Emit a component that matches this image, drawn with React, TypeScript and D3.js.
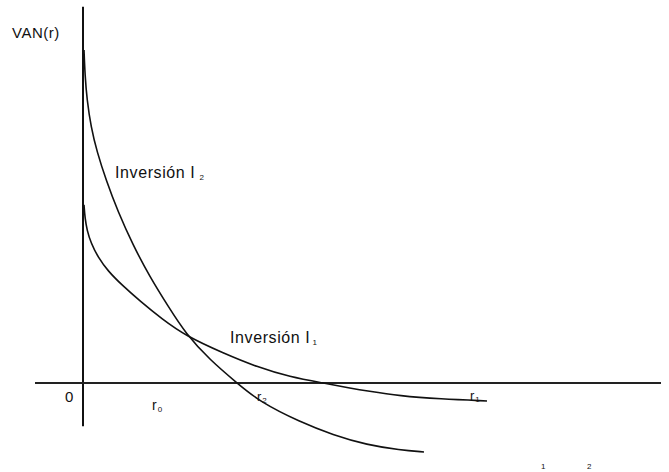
import React from "react";
import * as d3 from "d3";

// Curve data (r, VAN(r)) in abstract units
const rI2 = [0.25, 0.5, 1.0, 2.0, 3.5, 5.75, 8.75, 12.5, 16.75, 21.25, 25.75, 31.75, 38.5, 44.25, 54.25, 62.5, 71, 79.25, 85.25];
const vanI2 = [100, 92.5, 85.0, 76.9, 69.4, 61.0, 51.4, 41.4, 31.8, 23.1, 14.7, 6.9, 0, -5.7, -11.7, -15.6, -18.6, -20.1, -20.7];

const rI1 = [0.25, 0.5, 1.0, 2.0, 3.75, 6.25, 9.75, 14.25, 19.75, 25.75, 35.0, 43.5, 51.75, 60.0, 66.75, 71, 79.25, 89.25, 101];
const vanI1 = [53.5, 49.5, 45.9, 42.0, 37.8, 33.6, 29.4, 24.6, 19.2, 14.1, 9.0, 4.8, 1.8, 0, -1.5, -2.4, -3.9, -4.8, -5.4];

// Axis extents (data units)
const axisRExtent = [-12, 144.5];
const axisVanExtent = [-13, 113];

// Annotations: [text, subscript, r, van, fontSize, subDx]
const annotations: [string, string, number, number, number, number][] = [
  ["VAN(r)", "", -17.75, 103.6, 15, 0],
  ["Inversión I", "2", 8, 61.6, 16, 4],
  ["Inversión I", "1", 36.75, 12.0, 16, 2],
  ["0", "", -4.5, -5.7, 15, 0],
  ["r", "0", 17.25, -8.1, 14, 1],
  ["r", "2", 43.5, -5.4, 13, 1],
  ["r", "1", 96.75, -5.1, 13, 1],
];
const strayLabels: [string, number, number][] = [
  ["1", 114.5, -25.8],
  ["2", 126, -25.8],
];

const W = 669;
const H = 472;

export default function App() {
  const x = d3.scaleLinear().domain([0, 100]).range([83, 483]);
  const y = d3.scaleLinear().domain([0, 100]).range([383, 50]);

  const line = d3
    .line<[number, number]>()
    .x((d) => x(d[0]))
    .y((d) => y(d[1]))
    .curve(d3.curveBasis);

  const ptsI2 = rI2.map((r, i) => [r, vanI2[i]] as [number, number]);
  const ptsI1 = rI1.map((r, i) => [r, vanI1[i]] as [number, number]);

  const font = "'Liberation Sans', Arial, Helvetica, sans-serif";
  const ink = "#111";

  return (
    <svg
      width={W}
      height={H}
      viewBox={`0 0 ${W} ${H}`}
      style={{ position: "absolute", left: 0, top: 0, background: "#fff" }}
    >
      <rect x={0} y={0} width={W} height={H} fill="#fff" />
      {/* axes */}
      <line
        x1={x(0)}
        x2={x(0)}
        y1={y(axisVanExtent[1])}
        y2={y(axisVanExtent[0])}
        stroke={ink}
        strokeWidth={2}
      />
      <line
        x1={x(axisRExtent[0])}
        x2={x(axisRExtent[1])}
        y1={y(0)}
        y2={y(0)}
        stroke="#222"
        strokeWidth={2}
      />
      {/* curves */}
      <path d={line(ptsI2) || ""} fill="none" stroke={ink} strokeWidth={1.6} />
      <path d={line(ptsI1) || ""} fill="none" stroke={ink} strokeWidth={1.6} />
      {/* labels */}
      {annotations.map(([t, sub, r, v, fs, sdx], i) => (
        <text
          key={i}
          x={x(r)}
          y={y(v)}
          fontFamily={font}
          fontSize={fs}
          fill={ink}
          letterSpacing={t.length > 6 ? 0.6 : t.length > 2 ? 0.5 : 0}
        >
          {t}
          {sub && (
            <tspan fontSize={8} dx={sdx} dy={2} letterSpacing={0}>
              {sub}
            </tspan>
          )}
        </text>
      ))}
      {strayLabels.map(([t, r, v], i) => (
        <text key={"s" + i} x={x(r)} y={y(v)} fontFamily={font} fontSize={8} fill={ink}>
          {t}
        </text>
      ))}
    </svg>
  );
}
